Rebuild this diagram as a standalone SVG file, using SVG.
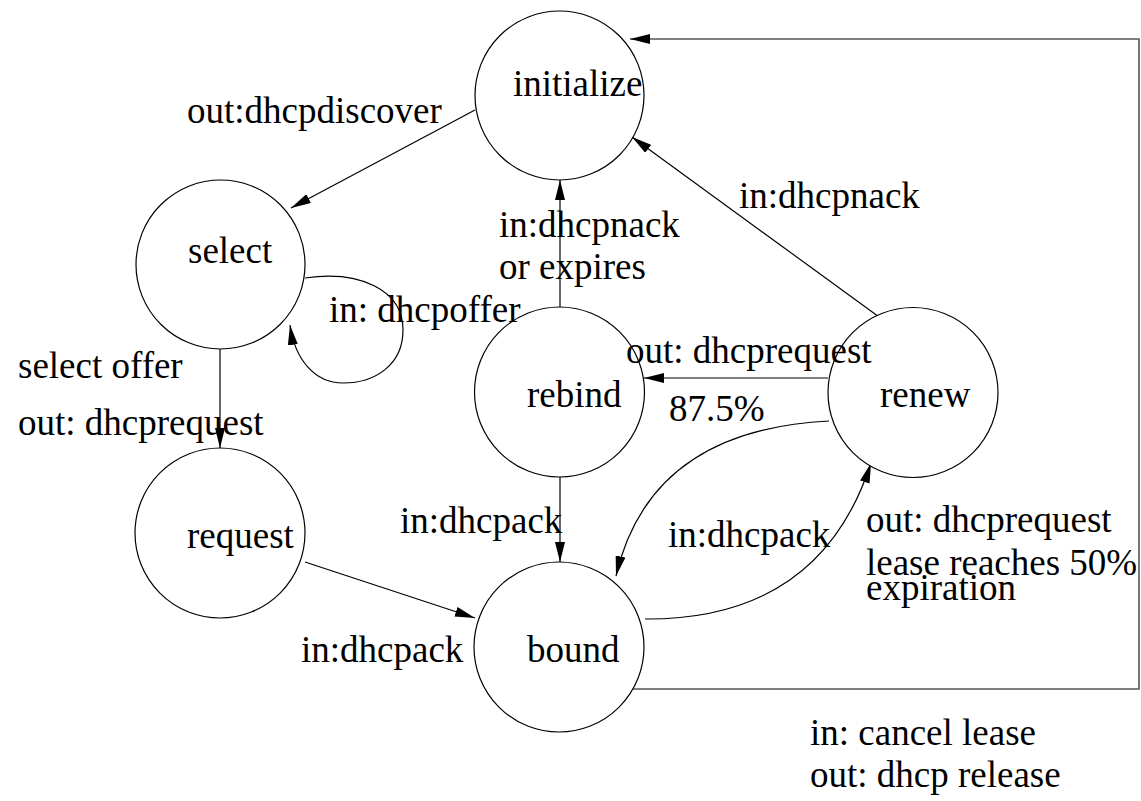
<svg xmlns="http://www.w3.org/2000/svg" width="1141" height="801" viewBox="0 0 1141 801">
  <defs>
    <marker id="arrow" markerUnits="userSpaceOnUse" markerWidth="20" markerHeight="10" refX="20" refY="5" orient="auto">
      <path d="M0,0 L20,5 L0,10 z" fill="#000"/>
    </marker>
  </defs>
  <style>
    .state { fill: #fff; stroke: #000; stroke-width: 1.2; }
    .edge { fill: none; stroke: #000; stroke-width: 1.2; marker-end: url(#arrow); }
    .release { fill: none; stroke: #555; stroke-width: 1.6; marker-end: url(#arrow); }
    text { font-family: "Liberation Serif", "Times New Roman", serif; font-size: 37px; fill: #000; }
  </style>
  <rect width="1141" height="801" fill="#fff"/>

  <!-- transitions -->
  <g id="connectors">
    <line class="edge" x1="475" y1="110" x2="291" y2="208"/>
    <path class="edge" d="M305,278 C360,270 403,290 403,330 C403,365 375,383 343,383 C315,383 295,360 290,325"/>
    <line class="edge" x1="220" y1="349" x2="220" y2="448"/>
    <line class="edge" x1="305" y1="562" x2="475" y2="618"/>
    <line class="edge" x1="560" y1="307" x2="560" y2="180"/>
    <line class="edge" x1="560" y1="477" x2="560" y2="562"/>
    <line class="edge" x1="828" y1="378" x2="644" y2="378"/>
    <line class="edge" x1="886" y1="322" x2="632" y2="137"/>
    <path class="edge" d="M829,421 Q650,430 616,576"/>
    <path class="edge" d="M645,619 Q820,620 871,463"/>
    <polyline class="release" points="632,689 1139,689 1139,39 630,39"/>
  </g>

  <!-- states -->
  <g id="initialize">
    <circle class="state" cx="559.5" cy="95.5" r="84.5"/>
    <text x="513" y="96">initialize</text>
  </g>
  <g id="select">
    <circle class="state" cx="220.5" cy="264.5" r="84.5"/>
    <text x="188" y="263">select</text>
  </g>
  <g id="request">
    <circle class="state" cx="220" cy="533" r="85"/>
    <text x="187" y="548">request</text>
  </g>
  <g id="rebind">
    <circle class="state" cx="559.5" cy="392" r="85"/>
    <text x="527" y="407">rebind</text>
  </g>
  <g id="renew">
    <circle class="state" cx="913" cy="392.5" r="85"/>
    <text x="880" y="407">renew</text>
  </g>
  <g id="bound">
    <circle class="state" cx="559" cy="647" r="85"/>
    <text x="527" y="662">bound</text>
  </g>

  <!-- transition labels -->
  <g id="labels">
    <text x="187" y="123">out:dhcpdiscover</text>
    <text x="329" y="322">in: dhcpoffer</text>
    <text x="739" y="208">in:dhcpnack</text>
    <text x="499" y="237">in:dhcpnack</text>
    <text x="499" y="279">or expires</text>
    <text x="626" y="363">out: dhcprequest</text>
    <text x="669" y="421">87.5%</text>
    <text x="18" y="378">select offer</text>
    <text x="18" y="435">out: dhcprequest</text>
    <text x="400" y="533">in:dhcpack</text>
    <text x="301" y="662">in:dhcpack</text>
    <text x="668" y="547">in:dhcpack</text>
    <text x="866" y="532">out: dhcprequest</text>
    <text x="866" y="575">lease reaches 50%</text>
    <text x="866" y="600">expiration</text>
    <text x="810" y="745">in: cancel lease</text>
    <text x="810" y="787">out: dhcp release</text>
  </g>
</svg>
